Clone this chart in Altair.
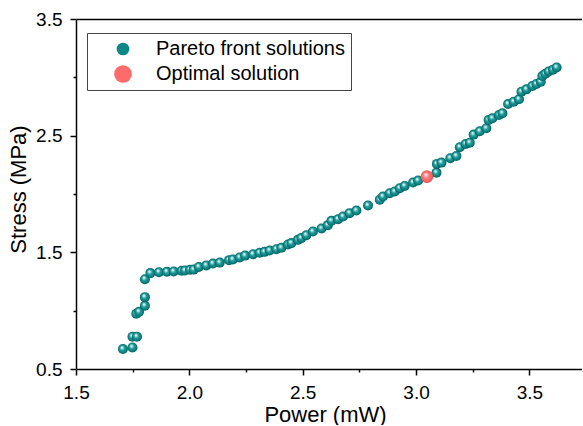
import altair as alt
import pandas as pd

# ---- data ----
series_names = ["Pareto front solutions", "Optimal solution"]

pareto_x = [1.707, 1.749, 1.749, 1.769, 1.766, 1.778, 1.804, 1.804, 1.804, 1.828, 1.866, 1.901, 1.931,
            1.966, 1.981, 2.003, 2.019, 2.042, 2.075, 2.104, 2.134,
            2.175, 2.192, 2.222, 2.246, 2.281, 2.310, 2.332, 2.354, 2.384, 2.406,
            2.435, 2.450, 2.479, 2.494, 2.516, 2.545, 2.583, 2.611, 2.627, 2.656,
            2.678, 2.707, 2.737, 2.788, 2.840, 2.854, 2.884, 2.906, 2.928, 2.950,
            2.987, 3.009, 3.090, 3.092, 3.112, 3.151, 3.178, 3.193, 3.219, 3.237,
            3.254, 3.281, 3.310, 3.320, 3.337, 3.366, 3.381, 3.406, 3.431, 3.454,
            3.465, 3.487, 3.513, 3.531, 3.550, 3.557, 3.570, 3.585, 3.604, 3.620]
pareto_y = [0.671, 0.685, 0.777, 0.777, 0.973, 0.990, 1.042, 1.116, 1.270, 1.322, 1.330, 1.333, 1.336,
            1.342, 1.344, 1.350, 1.352, 1.375, 1.388, 1.404, 1.412,
            1.433, 1.439, 1.456, 1.472, 1.484, 1.496, 1.504, 1.515, 1.527, 1.539,
            1.567, 1.579, 1.607, 1.622, 1.647, 1.678, 1.704, 1.733, 1.770, 1.784,
            1.807, 1.836, 1.858, 1.901, 1.950, 1.978, 2.007, 2.021, 2.050, 2.069,
            2.098, 2.115, 2.183, 2.258, 2.269, 2.307, 2.326, 2.401, 2.429, 2.440,
            2.509, 2.538, 2.563, 2.634, 2.649, 2.677, 2.692, 2.771, 2.791, 2.812,
            2.877, 2.897, 2.926, 2.943, 2.962, 3.011, 3.030, 3.050, 3.066, 3.085]

optimal_x = [3.048]
optimal_y = [2.149]

x_major = [1.5, 2.0, 2.5, 3.0, 3.5]
x_minor = [1.75, 2.25, 2.75, 3.25]
y_major = [0.5, 1.5, 2.5, 3.5]
y_minor = [1.0, 2.0, 3.0]

# ---- tables ----
pareto = pd.DataFrame({"x": pareto_x, "y": pareto_y, "series": series_names[0]})
optimal = pd.DataFrame({"x": optimal_x, "y": optimal_y, "series": series_names[1]})
both = pd.concat([pareto, optimal], ignore_index=True)

FONT = "Liberation Sans"
TEAL = "#0b8787"
RED = "#ff6b6b"

teal_grad = {
    "gradient": "radial", "x1": 0.38, "y1": 0.33, "r1": 0.0,
    "x2": 0.5, "y2": 0.5, "r2": 0.52,
    "stops": [
        {"offset": 0.0, "color": "#ffffff"},
        {"offset": 0.18, "color": "#bfeaea"},
        {"offset": 0.42, "color": "#2a9f9f"},
        {"offset": 0.8, "color": "#067e7e"},
        {"offset": 1.0, "color": "#035353"},
    ],
}
red_grad = {
    "gradient": "radial", "x1": 0.38, "y1": 0.33, "r1": 0.0,
    "x2": 0.5, "y2": 0.5, "r2": 0.52,
    "stops": [
        {"offset": 0.0, "color": "#ffffff"},
        {"offset": 0.2, "color": "#ffc4c4"},
        {"offset": 0.45, "color": "#ff7878"},
        {"offset": 0.85, "color": "#f26060"},
        {"offset": 1.0, "color": "#c84444"},
    ],
}

xs = alt.Scale(domain=[1.5, 3.732], nice=False, zero=False)
ys = alt.Scale(domain=[0.5, 3.5], nice=False, zero=False)

common_axis = dict(domainColor="black", domainWidth=1.5, tickColor="black", tickWidth=1.5,
                   grid=False, labelFont=FONT, labelColor="black", labelFlush=False,
                   labelOverlap=False)

x_axis_major = alt.Axis(values=x_major, format=".1f", orient="bottom", tickSize=6,
                        labelFontSize=19, labelPadding=8,
                        title="Power (mW)", titleFont=FONT, titleFontSize=22,
                        titleFontWeight="normal", titleColor="black",
                        titleX=249, titleY=52, titleBaseline="alphabetic", **common_axis)
y_axis_major = alt.Axis(values=y_major, format=".1f", orient="left", tickSize=6,
                        labelFontSize=19, labelPadding=8,
                        title="Stress (MPa)", titleFont=FONT, titleFontSize=22,
                        titleFontWeight="normal", titleColor="black",
                        titleX=-51, titleY=170, titleAngle=270,
                        titleBaseline="alphabetic", **common_axis)
x_axis_minor = alt.Axis(values=x_minor, orient="bottom", tickSize=3, labels=False,
                        domain=False, title=None, **common_axis)
y_axis_minor = alt.Axis(values=y_minor, orient="left", tickSize=3, labels=False,
                        domain=False, title=None, **common_axis)
x_axis_top = alt.Axis(values=[], orient="top", ticks=False, labels=False,
                      domain=True, title=None, **common_axis)

legend = alt.Legend(
    title=None, orient="none", legendX=11, legendY=14,
    fillColor="white", strokeColor="#444444", padding=6,
    labelFont=FONT, labelFontSize=20, labelColor="black", labelLimit=400,
    symbolType="circle", symbolStrokeWidth=0, symbolOpacity=1,
    symbolOffset=20, labelOffset=23, rowPadding=5,
)

# invisible layer carrying the axes and the legend
base = alt.Chart(both).transform_filter("datum.x < 0").mark_circle(opacity=1).encode(
    x=alt.X("x:Q", scale=xs, axis=x_axis_major),
    y=alt.Y("y:Q", scale=ys, axis=y_axis_major),
    color=alt.Color("series:N", scale=alt.Scale(domain=series_names, range=[TEAL, RED]),
                    legend=legend),
    size=alt.Size("series:N", scale=alt.Scale(domain=series_names, range=[161, 313]),
                  legend=legend),
)

pareto_layer = alt.Chart(pareto).mark_circle(size=100, opacity=1, color=teal_grad).encode(
    x=alt.X("x:Q", scale=xs, axis=x_axis_minor),
    y=alt.Y("y:Q", scale=ys, axis=y_axis_minor),
)

optimal_layer = alt.Chart(optimal).mark_circle(size=160, opacity=1, color=red_grad).encode(
    x=alt.X("x:Q", scale=xs, axis=x_axis_top),
    y=alt.Y("y:Q", scale=ys, axis=None),
)

chart = alt.layer(base, pareto_layer, optimal_layer).resolve_axis(
    x="independent", y="independent"
).properties(
    width=506, height=350,
    padding={"left": 76, "top": 19, "right": 0, "bottom": 56},
    autosize=alt.AutoSizeParams(type="none"),
).configure_view(stroke=None)

chart.save("out.html", embed_options={"renderer": "svg", "actions": False})
